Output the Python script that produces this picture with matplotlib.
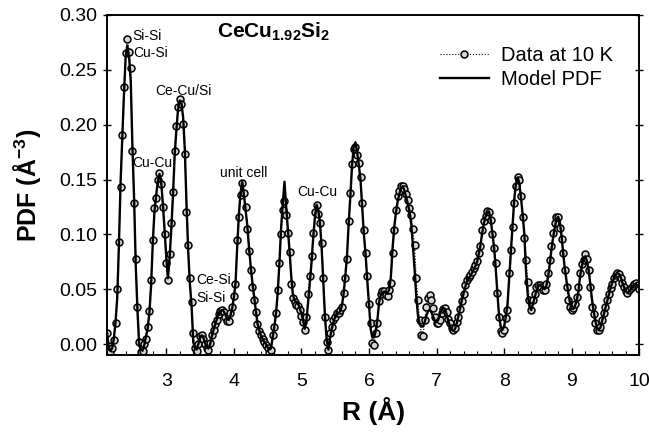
import numpy as np
import matplotlib
matplotlib.use("Agg")
import matplotlib.pyplot as plt

plt.rcParams['font.family'] = ['Liberation Sans', 'DejaVu Sans']
plt.rcParams['mathtext.fontset'] = 'custom'
plt.rcParams['mathtext.rm'] = 'Liberation Sans'
plt.rcParams['mathtext.bf'] = 'Liberation Sans:bold'

# PDF sampled every 0.025 A from 2.125 to 10.0 A (8 points per row)
r_start, r_step = 2.125, 0.025

g_model = [
    0.010, -0.003, -0.006, -0.004, 0.005, 0.020, 0.042, 0.090,   # 2.125
    0.148, 0.188, 0.228, 0.262, 0.272, 0.262, 0.240, 0.180,     # 2.325
    0.132, 0.070, 0.030, -0.001, -0.005, -0.006, -0.001, 0.007, # 2.525
    0.014, 0.028, 0.052, 0.090, 0.120, 0.135, 0.148, 0.155,     # 2.725
    0.148, 0.128, 0.105, 0.080, 0.060, 0.078, 0.105, 0.135,     # 2.925
    0.172, 0.195, 0.214, 0.222, 0.220, 0.207, 0.178, 0.128,     # 3.125
    0.085, 0.055, 0.035, 0.002, -0.004, -0.005, 0.000, 0.006,   # 3.325
    0.008, 0.006, 0.001, -0.003, -0.004, 0.000, 0.007, 0.013,   # 3.525
    0.018, 0.023, 0.028, 0.030, 0.031, 0.030, 0.027, 0.023,     # 3.725
    0.022, 0.026, 0.032, 0.042, 0.055, 0.088, 0.118, 0.138,     # 3.925
    0.148, 0.136, 0.122, 0.108, 0.088, 0.071, 0.056, 0.044,     # 4.125
    0.031, 0.019, 0.013, 0.008, 0.005, 0.002, 0.000, -0.003,    # 4.325
    -0.005, -0.004, 0.006, 0.016, 0.028, 0.047, 0.074, 0.106,  # 4.525
    0.128, 0.148, 0.125, 0.105, 0.085, 0.062, 0.045, 0.040,     # 4.725
    0.038, 0.037, 0.033, 0.028, 0.022, 0.014, 0.022, 0.038,     # 4.925
    0.056, 0.074, 0.097, 0.115, 0.127, 0.122, 0.111, 0.088,     # 5.125
    0.055, 0.024, 0.004, -0.005, 0.006, 0.014, 0.020, 0.025,    # 5.325
    0.027, 0.028, 0.030, 0.035, 0.046, 0.062, 0.080, 0.110,     # 5.525
    0.135, 0.163, 0.180, 0.184, 0.175, 0.163, 0.150, 0.125,     # 5.725
    0.100, 0.082, 0.058, 0.037, 0.014, 0.006, 0.006, 0.012,     # 5.925
    0.022, 0.038, 0.045, 0.047, 0.048, 0.047, 0.046, 0.050,     # 6.125
    0.062, 0.088, 0.107, 0.120, 0.130, 0.137, 0.142, 0.144,     # 6.325
    0.140, 0.134, 0.128, 0.121, 0.110, 0.090, 0.068, 0.044,     # 6.525
    0.026, 0.018, 0.016, 0.016, 0.020, 0.026, 0.030, 0.031,     # 6.725
    0.029, 0.025, 0.021, 0.020, 0.022, 0.027, 0.031, 0.033,     # 6.925
    0.032, 0.027, 0.021, 0.016, 0.013, 0.012, 0.014, 0.019,     # 7.125
    0.026, 0.033, 0.040, 0.046, 0.052, 0.057, 0.060, 0.062,     # 7.325
    0.065, 0.068, 0.071, 0.075, 0.082, 0.090, 0.101, 0.110,     # 7.525
    0.116, 0.120, 0.121, 0.114, 0.102, 0.089, 0.070, 0.047,     # 7.725
    0.026, 0.016, 0.013, 0.016, 0.025, 0.036, 0.060, 0.084,     # 7.925
    0.108, 0.132, 0.146, 0.152, 0.147, 0.133, 0.118, 0.100,     # 8.125
    0.066, 0.045, 0.034, 0.031, 0.036, 0.042, 0.048, 0.052,     # 8.325
    0.054, 0.053, 0.051, 0.050, 0.053, 0.061, 0.072, 0.086,     # 8.525
    0.097, 0.106, 0.114, 0.116, 0.111, 0.099, 0.082, 0.068,     # 8.725
    0.057, 0.047, 0.038, 0.032, 0.032, 0.035, 0.040, 0.048,     # 8.925
    0.062, 0.071, 0.078, 0.080, 0.076, 0.068, 0.055, 0.041,     # 9.125
    0.030, 0.021, 0.015, 0.013, 0.015, 0.021, 0.027, 0.033,     # 9.325
    0.039, 0.045, 0.051, 0.056, 0.060, 0.063, 0.065, 0.064,     # 9.525
    0.061, 0.056, 0.052, 0.048, 0.047, 0.048, 0.050, 0.052,     # 9.725
    0.054, 0.055, 0.053, 0.051,                                 # 9.925
]

g_data = [
    0.010, -0.002, -0.007, -0.004, 0.004, 0.019, 0.050, 0.093,  # 2.125
    0.143, 0.191, 0.234, 0.265, 0.278, 0.266, 0.252, 0.176,     # 2.325
    0.129, 0.078, 0.034, 0.002, -0.007, -0.006, 0.000, 0.005,   # 2.525
    0.016, 0.030, 0.058, 0.095, 0.124, 0.133, 0.150, 0.156,     # 2.725
    0.146, 0.125, 0.100, 0.074, 0.058, 0.082, 0.110, 0.139,     # 2.925
    0.176, 0.199, 0.216, 0.223, 0.219, 0.201, 0.173, 0.120,     # 3.125
    0.090, 0.060, 0.038, 0.010, -0.004, -0.006, 0.000, 0.007,   # 3.325
    0.008, 0.005, 0.000, -0.004, -0.005, 0.001, 0.008, 0.013,   # 3.525
    0.018, 0.022, 0.027, 0.030, 0.031, 0.029, 0.025, 0.021,     # 3.725
    0.021, 0.028, 0.034, 0.044, 0.055, 0.095, 0.116, 0.136,     # 3.925
    0.147, 0.138, 0.125, 0.105, 0.085, 0.068, 0.052, 0.040,     # 4.125
    0.029, 0.018, 0.012, 0.008, 0.005, 0.002, -0.001, -0.004,   # 4.325
    -0.008, -0.005, 0.008, 0.016, 0.028, 0.049, 0.074, 0.100,  # 4.525
    0.122, 0.130, 0.118, 0.101, 0.084, 0.055, 0.042, 0.038,     # 4.725
    0.036, 0.035, 0.031, 0.026, 0.020, 0.013, 0.025, 0.046,     # 4.925
    0.062, 0.080, 0.101, 0.120, 0.127, 0.119, 0.110, 0.092,     # 5.125
    0.060, 0.025, 0.002, -0.005, 0.010, 0.016, 0.022, 0.025,    # 5.325
    0.028, 0.028, 0.031, 0.034, 0.047, 0.060, 0.078, 0.112,     # 5.525
    0.138, 0.164, 0.178, 0.180, 0.172, 0.165, 0.152, 0.129,     # 5.725
    0.104, 0.083, 0.062, 0.037, 0.019, 0.001, -0.001, 0.010,    # 5.925
    0.019, 0.039, 0.046, 0.048, 0.048, 0.045, 0.044, 0.049,     # 6.125
    0.056, 0.083, 0.104, 0.122, 0.135, 0.140, 0.144, 0.144,     # 6.325
    0.141, 0.137, 0.131, 0.124, 0.118, 0.105, 0.090, 0.060,     # 6.525
    0.040, 0.022, 0.008, 0.007, 0.022, 0.034, 0.042, 0.045,     # 6.725
    0.040, 0.033, 0.025, 0.019, 0.019, 0.022, 0.028, 0.032,     # 6.925
    0.033, 0.029, 0.023, 0.019, 0.015, 0.013, 0.015, 0.020,     # 7.125
    0.025, 0.032, 0.039, 0.046, 0.054, 0.058, 0.061, 0.063,     # 7.325
    0.066, 0.069, 0.072, 0.076, 0.083, 0.089, 0.104, 0.112,     # 7.525
    0.117, 0.121, 0.120, 0.113, 0.100, 0.088, 0.074, 0.047,     # 7.725
    0.025, 0.012, 0.010, 0.013, 0.024, 0.031, 0.065, 0.086,     # 7.925
    0.107, 0.129, 0.144, 0.152, 0.150, 0.135, 0.116, 0.097,     # 8.125
    0.077, 0.057, 0.040, 0.031, 0.040, 0.046, 0.052, 0.054,     # 8.325
    0.054, 0.052, 0.049, 0.049, 0.055, 0.065, 0.077, 0.089,     # 8.525
    0.101, 0.110, 0.116, 0.116, 0.106, 0.096, 0.083, 0.068,     # 8.725
    0.052, 0.040, 0.034, 0.031, 0.033, 0.037, 0.043, 0.052,     # 8.925
    0.065, 0.073, 0.077, 0.082, 0.078, 0.068, 0.052, 0.034,     # 9.125
    0.027, 0.019, 0.013, 0.013, 0.016, 0.022, 0.028, 0.034,     # 9.325
    0.040, 0.046, 0.051, 0.055, 0.060, 0.063, 0.065, 0.064,     # 9.525
    0.060, 0.056, 0.052, 0.048, 0.047, 0.049, 0.051, 0.053,     # 9.725
    0.055, 0.056, 0.054, 0.050,                                 # 9.925
]

r = r_start + r_step * np.arange(len(g_model))

# peak assignments: (label, R, G)
peak_labels = [
    ("Si-Si", 2.50, 0.281),
    ("Cu-Si", 2.51, 0.265),
    ("Ce-Cu/Si", 2.84, 0.231),
    ("Cu-Cu", 2.50, 0.165),
    ("unit cell", 3.80, 0.156),
    ("Cu-Cu", 4.94, 0.139),
    ("Ce-Si", 3.44, 0.058),
    ("Si-Si", 3.44, 0.042),
]

fig = plt.figure(figsize=(6.49, 4.40), dpi=100)
ax = fig.add_axes([0.165, 0.193, 0.820, 0.773])

ax.plot(r, g_data, linestyle=':', color='black', lw=0.8,
        marker='o', markersize=5.0, markerfacecolor='#d4d4d4',
        markeredgecolor='black', markeredgewidth=1.1,
        label='Data at 10 K', zorder=2)
ax.plot(r, g_model, '-', color='black', lw=1.7, label='Model PDF', zorder=3)

for txt, x, y in peak_labels:
    ax.text(x, y, txt, fontsize=10, ha='left', va='center', zorder=4)

ax.text(3.755, 0.285, r'CeCu$_{\mathbf{1.92}}$Si$_{\mathbf{2}}$',
        fontsize=15, fontweight='bold', ha='left', va='center')

ax.set_xlim(2.125, 10.0)
ax.set_ylim(-0.010, 0.300)
ax.set_xticks(np.arange(3, 11, 1))
ax.set_xticks(np.arange(2.2, 10.01, 0.2), minor=True)
ax.set_yticks(np.arange(0, 0.301, 0.05))
ax.yaxis.set_major_formatter(matplotlib.ticker.FormatStrFormatter('%.2f'))

ax.tick_params(axis='x', which='major', direction='in', length=5, width=1.0,
               labelsize=14, pad=13)
ax.tick_params(axis='x', which='minor', direction='in', length=3, width=0.8)
ax.tick_params(axis='y', which='major', direction='inout', length=6, width=1.0,
               labelsize=14, pad=4, right=True)
for s in ax.spines.values():
    s.set_linewidth(1.4)

ax.set_xlabel('R (Å)', fontsize=19, fontweight='bold', labelpad=5)
ax.set_ylabel(r'PDF (Å$^{\mathbf{-3}}$)', fontsize=18, fontweight='bold', labelpad=12)

ax.legend(loc='upper left', bbox_to_anchor=(0.611, 0.932), frameon=False,
          fontsize=14.5, handlelength=2.4, handletextpad=0.6, labelspacing=0.25,
          numpoints=1, borderaxespad=0.0)

fig.savefig('out.png', dpi=100)
